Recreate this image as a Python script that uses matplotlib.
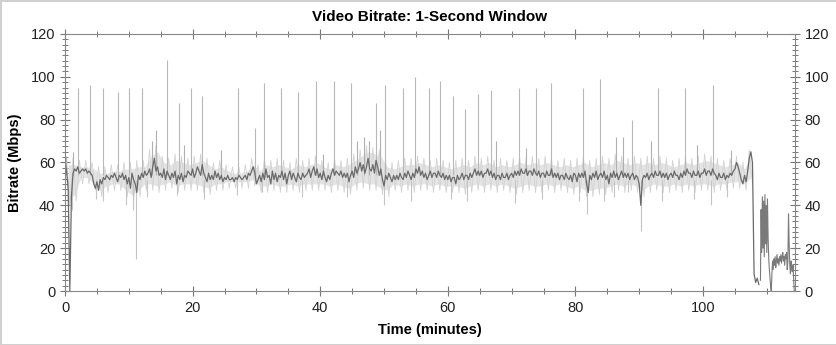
import matplotlib.pyplot as plt
import numpy as np
from matplotlib.ticker import MultipleLocator

plt.rcParams['font.family'] = ['Liberation Sans', 'DejaVu Sans']

# dark trace, one value every 0.25 min (four per minute), 0 .. 108.75 min
step = 0.25
bitrate = [
    60, 56, 47, 0,   44, 55, 57, 56,   58, 55, 56, 57,   56, 57, 55, 56,
    55, 54, 50, 48,  51, 47, 52, 50,   53, 52, 54, 53,   52, 54, 53, 55,
    53, 51, 54, 53,  55, 52, 54, 50,   53, 48, 55, 52,   50, 46, 54, 52,
    55, 53, 56, 54,  55, 57, 53, 58,   62, 56, 58, 54,   55, 53, 57, 52,
    56, 54, 52, 55,  53, 56, 50, 54,   52, 55, 51, 54,   53, 56, 55, 54,
    57, 53, 55, 58,  56, 54, 59, 55,   53, 51, 55, 52,   54, 52, 56, 53,
    55, 52, 54, 51,  53, 52, 54, 52,   52, 53, 51, 53,   52, 54, 53, 52,
    53, 54, 52, 55,  54, 56, 58, 55,   50, 52, 54, 51,   55, 52, 57, 53,
    54, 50, 56, 52,  55, 51, 54, 53,   56, 52, 55, 50,   54, 56, 52, 55,
    53, 51, 55, 53,  52, 55, 53, 54,   55, 57, 53, 56,   58, 54, 57, 53,
    55, 52, 56, 53,  51, 54, 52, 55,   57, 54, 56, 55,   54, 56, 53, 55,
    53, 55, 51, 54,  56, 53, 58, 55,   57, 60, 56, 59,   55, 58, 62, 57,
    56, 59, 55, 61,  58, 54, 57, 52,   49, 54, 52, 55,   53, 51, 54, 52,
    54, 52, 55, 53,  52, 55, 53, 56,   54, 52, 55, 53,   57, 55, 58, 54,
    56, 53, 55, 52,  54, 56, 53, 55,   55, 53, 56, 54,   53, 55, 52, 54,
    52, 54, 51, 53,  53, 50, 54, 52,   53, 55, 52, 54,   54, 52, 55, 53,
    55, 57, 54, 56,  54, 56, 53, 55,   55, 57, 54, 56,   53, 55, 52, 54,
    54, 52, 55, 53,  53, 55, 52, 54,   55, 53, 56, 54,   56, 54, 57, 55,
    55, 57, 54, 56,  56, 54, 57, 55,   54, 56, 53, 55,   55, 53, 56, 54,
    54, 57, 53, 55,  53, 55, 52, 54,   54, 52, 55, 53,   52, 54, 51, 55,
    54, 51, 55, 53,  55, 53, 56, 50,   46, 54, 52, 55,   53, 56, 52, 54,
    55, 53, 56, 52,  54, 50, 55, 53,   56, 53, 55, 52,   54, 56, 53, 55,
    53, 55, 52, 54,  55, 52, 54, 53,   50, 40, 52, 54,   53, 55, 52, 54,
    55, 53, 56, 54,  54, 56, 53, 55,   53, 55, 52, 54,   55, 53, 56, 54,
    54, 52, 55, 53,  56, 54, 57, 55,   55, 53, 56, 54,   54, 56, 53, 55,
    55, 57, 54, 56,  56, 54, 57, 55,   54, 52, 55, 53,   53, 55, 52, 54,
    53, 55, 54, 56,  57, 60, 58, 55,   52, 50, 54, 51,   56, 62, 65, 60,
    8, 4, 6, 3,
]

# end of the file, one value every 0.1 min from 109.0 min
tail_start = 109.0
tail_step = 0.1
tail = [
    5, 38, 18, 44, 20, 42, 16, 45, 22, 40,
    18, 43, 25, 15, 10, 6, 2, 0, 8, 14,
    10, 15, 12, 16, 11, 14, 17, 13, 15, 12,
    16, 14, 17, 13, 16, 18, 14, 16, 12, 17,
    15, 18, 10, 14, 36, 22, 12, 8, 14, 10,
    9, 12, 6, 0,
]

# light grey spread per minute, 0 .. 107 min
upper = [
    62, 62, 61, 61, 60, 58, 58, 59, 59, 60,
    60, 61, 61, 66, 68, 63, 62, 64, 63, 62,
    63, 64, 62, 60, 61, 59, 58, 58, 59, 62,
    59, 62, 61, 62, 61, 60, 62, 61, 62, 63,
    61, 60, 62, 61, 62, 64, 66, 68, 67, 66,
    61, 60, 61, 62, 62, 63, 62, 61, 62, 61,
    60, 61, 62, 61, 63, 62, 63, 61, 62, 61,
    62, 63, 62, 63, 62, 63, 62, 61, 62, 61,
    62, 63, 61, 62, 63, 62, 64, 63, 62, 63,
    62, 63, 62, 63, 62, 61, 62, 63, 62, 63,
    64, 63, 62, 61, 62, 63, 60, 66,
]
lower = [
    40, 42, 50, 50, 47, 44, 46, 47, 47, 44,
    42, 44, 47, 47, 46, 47, 48, 46, 47, 47,
    47, 46, 45, 47, 47, 48, 48, 48, 48, 49,
    46, 46, 47, 46, 46, 47, 46, 47, 47, 47,
    47, 46, 47, 46, 45, 47, 48, 47, 47, 45,
    44, 47, 46, 47, 46, 47, 47, 46, 47, 46,
    46, 46, 45, 46, 47, 46, 47, 46, 47, 46,
    45, 46, 47, 46, 46, 47, 46, 47, 46, 45,
    46, 44, 44, 45, 45, 46, 47, 46, 47, 46,
    44, 46, 47, 46, 46, 47, 46, 47, 46, 47,
    47, 46, 47, 47, 48, 48, 47, 50,
]

# tall keyframe spikes (minute, Mbps)
spike_t = [2.0, 3.9, 5.9, 8.25, 10.0, 12.0, 16.0, 17.8, 19.7, 21.5, 27.1, 29.7,
           31.2, 33.8, 36.5, 39.3, 42.1, 44.8, 48.7, 50.2, 52.9, 54.9, 57.0,
           58.8, 60.75, 62.7, 64.8, 66.8, 71.2, 73.8, 76.2, 81.2, 83.8, 88.9,
           93.0, 97.2, 101.5]
spike_v = [95, 96, 95, 93, 95, 95, 108, 88, 95, 91, 95, 76,
           97, 95, 93, 98, 98, 97, 88, 96, 95, 100, 95,
           98, 91, 85, 92, 94, 95, 95, 97, 95, 99, 80,
           95, 95, 96]

# smaller peaks
bump_t = [0.2, 1.3, 13.7, 14.2, 18.7, 24.4, 40.5, 45.7, 46.8, 47.6, 49.4,
          67.5, 72.3, 86.3, 87.5, 91.9, 99.0, 104.4]
bump_v = [63, 65, 70, 75, 68, 66, 64, 70, 72, 70, 75,
          70, 67, 72, 72, 70, 68, 66]

# downward dips
dip_t = [0.45, 1.1, 4.8, 5.9, 9.5, 10.6, 11.2, 12.8, 17.5, 21.8, 27.0, 30.8,
         37.2, 44.2, 50.0, 54.3, 60.5, 63.0, 70.6, 74.8, 80.5, 81.8, 84.4,
         86.0, 88.2, 90.2, 93.6, 98.6, 101.3, 103.8]
dip_v = [25, 38, 43, 42, 40, 38, 15, 44, 45, 43, 45, 46,
         44, 44, 40, 42, 43, 42, 41, 43, 42, 36, 42,
         44, 46, 28, 42, 43, 40, 44]

t_main = np.arange(len(bitrate)) * step
t_tail = tail_start + np.arange(len(tail)) * tail_step
t_env = np.arange(len(upper)) + 0.5

# light trace: hop between the per-minute high and low readings
t_hair = np.column_stack([t_env - 0.25, t_env + 0.25]).ravel()
v_hair = np.column_stack([upper, lower]).ravel()

fig = plt.figure(figsize=(8.37, 3.45), dpi=100, edgecolor='#d0d0d0', linewidth=2)
ax = fig.add_axes([0.0777, 0.1565, 0.872, 0.745])

ax.fill_between(t_env, np.array(lower) + 3, np.array(upper) - 3, color='#e4e4e4', lw=0)
ax.plot(t_hair, v_hair, color='#d2d2d2', lw=0.6)
ax.vlines(spike_t, 54, spike_v, color='#b8b8b8', lw=0.8)
ax.vlines(bump_t, 54, bump_v, color='#b0b0b0', lw=0.8)
ax.vlines(dip_t, dip_v, 52, color='#c4c4c4', lw=0.8)
ax.plot(t_main, bitrate, color='#6a6a6a', lw=0.9)
ax.plot(t_tail, tail, color='#7a7a7a', lw=0.8)

ax.set_xlim(0, 114.4)
ax.set_ylim(0, 120)
ax.xaxis.set_major_locator(MultipleLocator(20))
ax.xaxis.set_minor_locator(MultipleLocator(5))
ax.yaxis.set_major_locator(MultipleLocator(20))
ax.yaxis.set_minor_locator(MultipleLocator(2.5))
ax.tick_params(which='both', direction='inout', top=True, right=True,
               labelright=True, color='#777777', labelsize=10.5, labelcolor='#222222')
ax.tick_params(which='major', length=7, width=0.8)
ax.tick_params(which='minor', length=4, width=0.7)
for s in ax.spines.values():
    s.set_color('#888888')
    s.set_linewidth(0.8)

ax.set_title('Video Bitrate: 1-Second Window', fontsize=11, fontweight='bold', pad=9)
ax.set_xlabel('Time (minutes)', fontsize=10.5, fontweight='bold', labelpad=6)
ax.set_ylabel('Bitrate (Mbps)', fontsize=10.5, fontweight='bold', labelpad=6)

fig.savefig('out.png', dpi=100, edgecolor=fig.get_edgecolor())
